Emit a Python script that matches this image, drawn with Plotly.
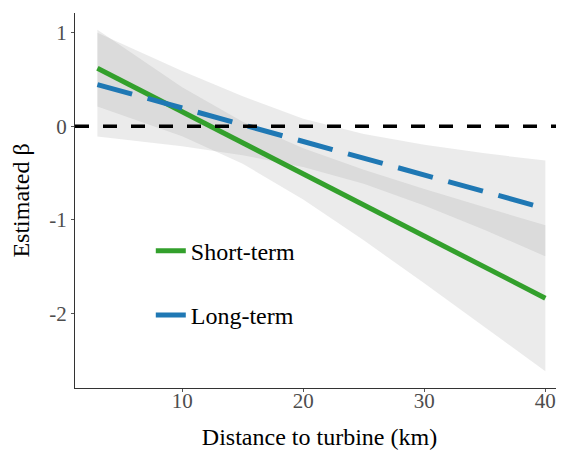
import plotly.graph_objects as go

# Distance to turbine (km)
distance = [3, 10, 15, 20, 25, 30, 35, 40]

# Short-term: fitted estimate and confidence band
short_fit = [0.62, 0.154, -0.178, -0.51, -0.843, -1.176, -1.508, -1.84]
short_upper = [1.03, 0.416, 0.046, -0.236, -0.465, -0.672, -0.868, -1.06]
short_lower = [0.21, -0.108, -0.402, -0.784, -1.221, -1.68, -2.148, -2.62]

# Long-term: fitted estimate and confidence band
long_fit = [0.445, 0.194, 0.015, -0.164, -0.343, -0.522, -0.701, -0.88]
long_upper = [1.0, 0.59, 0.32, 0.08, -0.085, -0.2, -0.291, -0.368]
long_lower = [-0.11, -0.216, -0.311, -0.438, -0.617, -0.848, -1.111, -1.392]

x_ticks = [10, 20, 30, 40]
x_ticklabels = ["10", "20", "30", "40"]
y_ticks = [1, 0, -1, -2]
y_ticklabels = ["1", "0", "-1", "-2"]

SERIF = "Liberation Serif, Times New Roman, serif"
RIBBON = "rgba(153,153,153,0.2)"

fig = go.Figure()

for up, lo in [(short_upper, short_lower), (long_upper, long_lower)]:
    fig.add_trace(go.Scatter(
        x=distance + distance[::-1],
        y=up + lo[::-1],
        fill="toself", fillcolor=RIBBON,
        line=dict(width=0), mode="lines",
        hoverinfo="skip", showlegend=False,
    ))

fig.add_trace(go.Scatter(
    x=distance, y=short_fit, mode="lines", name="Short-term",
    line=dict(color="#33a02c", width=5), legendgroup="a",
))
fig.add_trace(go.Scatter(
    x=distance, y=long_fit, mode="lines", name="Long-term",
    line=dict(color="#1f78b4", width=5, dash="36px,16px"), legendgroup="b",
))

fig.add_shape(type="line", xref="paper", x0=0, x1=1, yref="y", y0=0, y1=0,
              line=dict(color="black", width=3.5, dash="14px,14px"))

# page body has an 8px margin, so the figure is sized to fill the 564x450 window
fig.update_layout(
    width=556, height=442,
    margin=dict(l=67, r=0, t=5, b=62, autoexpand=False),
    paper_bgcolor="white", plot_bgcolor="white",
    font=dict(family=SERIF, color="black"),
    showlegend=True,
    legend=dict(
        x=0.155, y=0.425, xanchor="left", yanchor="top",
        font=dict(family=SERIF, size=24, color="black"),
        bgcolor="rgba(0,0,0,0)", traceorder="grouped", tracegroupgap=30,
    ),
    xaxis=dict(
        range=[1.15, 41.54], tickvals=x_ticks, ticktext=x_ticklabels,
        automargin=False,
        showgrid=False, zeroline=False, showline=True, linecolor="#333333",
        linewidth=1, ticks="outside", ticklen=3, tickcolor="#555555",
        ticklabelstandoff=-9,
        tickfont=dict(family=SERIF, size=21, color="#4d4d4d"),
        title=dict(text="Distance to turbine (km)", font=dict(family=SERIF, size=24, color="black"), standoff=18),
    ),
    yaxis=dict(
        range=[-2.8, 1.21], tickvals=y_ticks, ticktext=y_ticklabels,
        automargin=False,
        showgrid=False, zeroline=False, showline=True, linecolor="#333333",
        linewidth=1, ticks="outside", ticklen=3, tickcolor="#555555",
        tickfont=dict(family=SERIF, size=21, color="#4d4d4d"),
        title=dict(text="Estimated β", font=dict(family=SERIF, size=24, color="black"), standoff=13),
    ),
)

fig.write_html("out.html")
